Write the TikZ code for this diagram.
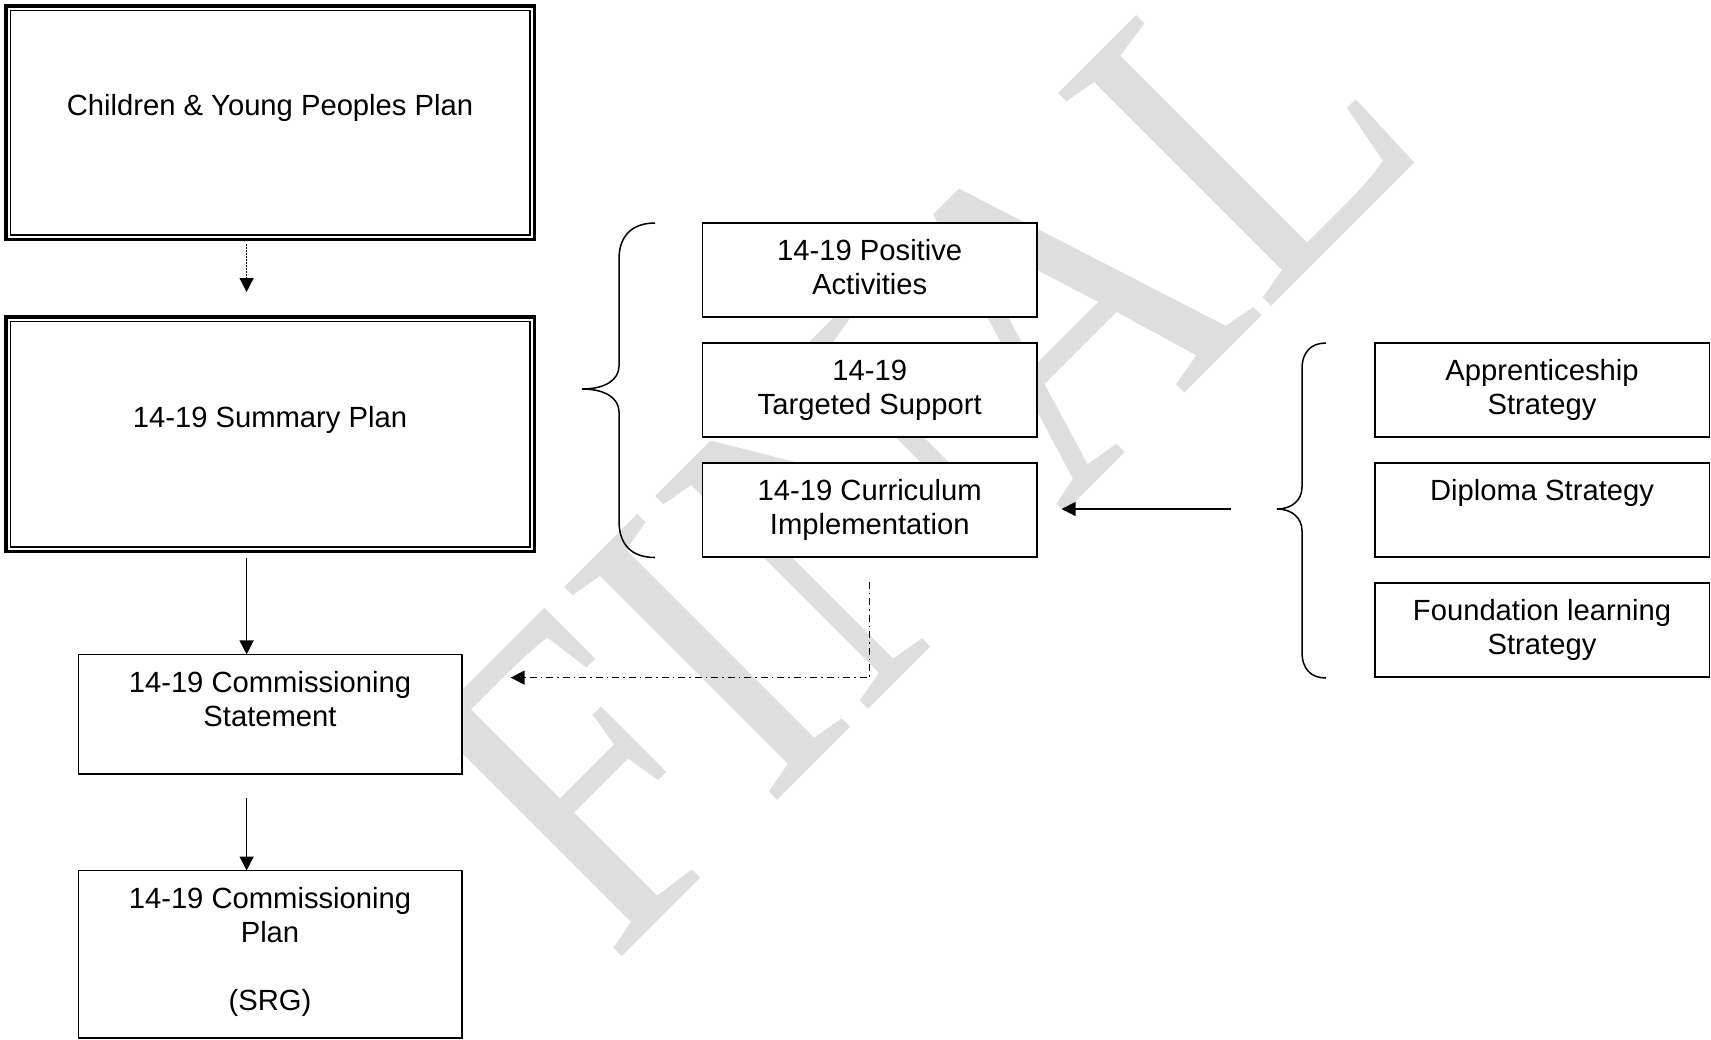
\documentclass[tikz,border=0pt]{standalone}
\usepackage{fontspec}
\setmainfont{Liberation Sans}
\newfontfamily\wmfont{Liberation Serif}
\usetikzlibrary{arrows.meta,calc}
\definecolor{wmgray}{RGB}{222,222,222}
\newcommand{\mlines}[1]{\begin{tabular}[t]{@{}c@{}}#1\end{tabular}}
\begin{document}
\begin{tikzpicture}[x=0.5pt,y=-0.5pt,
  box/.style={draw, line width=0.75pt, fill=white, inner sep=0, outer sep=0, rectangle},
  dbox/.style={draw, line width=1.75pt, fill=white, inner sep=0, outer sep=0, rectangle},
  txt/.style={anchor=base, inner sep=0, outer sep=0, font=\fontsize{14.6pt}{17pt}\selectfont},
  conn/.style={line width=0.75pt, -{Triangle[length=7pt,width=7pt]}},
  dotconn/.style={conn, dash pattern=on 0.75pt off 0.75pt},
  dashdotconn/.style={conn, dash pattern=on 3.5pt off 2pt on 0.75pt off 2pt},
  bracepath/.style={line width=0.75pt},
  wmark/.style={font={\wmfont\fontsize{230pt}{260pt}\selectfont}, text=wmgray, rotate=45, xscale=0.859, anchor=base west, inner sep=0, outer sep=0}
]
\useasboundingbox (0,0) rectangle (1711,1039);
\clip (0,0) rectangle (1711,1039);

% watermark
\node[wmark] (wm) at (612,966) {FINAL};

% left column
\node[dbox, minimum width=264.25pt, minimum height=116.75pt] (cyp) at (270,122.5) {};
\draw[line width=0.75pt] ($(cyp.north west)+(4.5,4.5)$) rectangle ($(cyp.south east)+(-4.5,-4.5)$);
\node[dbox, minimum width=264.25pt, minimum height=117.25pt] (sum) at (270,434) {};
\draw[line width=0.75pt] ($(sum.north west)+(4.5,4.5)$) rectangle ($(sum.south east)+(-4.5,-4.5)$);
\node[box, minimum width=191.85pt, minimum height=59.8pt] (stm) at (270.1,714.2) {};
\node[box, minimum width=191.85pt, minimum height=83.65pt] (cpl) at (270.1,954.15) {};

\node[txt] (tcyp) at (270,115.3) {Children \& Young Peoples Plan};
\node[txt] (tsum) at (270,427.3) {14-19 Summary Plan};
\node[txt] (tstm) at (270,692.5) {\mlines{14-19 Commissioning\\Statement}};
\node[txt] (tcpl) at (270,908.5) {\mlines{14-19 Commissioning\\Plan\\ \\(SRG)}};

% middle column
\node[box, minimum width=167.25pt, minimum height=47pt] (pos) at (869.7,270) {};
\node[box, minimum width=167.25pt, minimum height=47pt] (tar) at (869.7,390) {};
\node[box, minimum width=167.25pt, minimum height=47pt] (cur) at (869.7,510) {};
\node[txt] (tpos) at (869.7,260.5) {\mlines{14-19 Positive\\Activities}};
\node[txt] (ttar) at (869.7,380.5) {\mlines{14-19\\Targeted Support}};
\node[txt] (tcur) at (869.7,500.5) {\mlines{14-19 Curriculum\\Implementation}};

% right column
\node[box, minimum width=167.25pt, minimum height=47pt] (app) at (1542,390) {};
\node[box, minimum width=167.25pt, minimum height=47pt] (dip) at (1542,510) {};
\node[box, minimum width=167.25pt, minimum height=47pt] (fnd) at (1542,630) {};
\node[txt] (tapp) at (1542,380.5) {\mlines{Apprenticeship\\Strategy}};
\node[txt] (tdip) at (1542,500.5) {Diploma Strategy};
\node[txt] (tfnd) at (1542,620.5) {\mlines{Foundation learning\\Strategy}};

% braces
\draw[bracepath] (655,223) .. controls (632,223) and (619,236) .. (619,259) -- (619,366)
  .. controls (619,380) and (605,389) .. (582,389)
  .. controls (605,389) and (619,398) .. (619,412) -- (619,521)
  .. controls (619,545) and (632,557.5) .. (655,557.5);
\draw[bracepath] (1326,343) .. controls (1311,343) and (1302,352) .. (1302,369) -- (1302,487)
  .. controls (1302,500) and (1292,509) .. (1277,509)
  .. controls (1292,509) and (1302,518) .. (1302,531) -- (1302,652)
  .. controls (1302,669) and (1311,678) .. (1326,678);
\coordinate (rb) at (1277,509);

% connectors
\coordinate (ax) at (246.6,0);
\draw[dotconn] ($(cyp.south -| ax)+(0,4.75)$) -- ($(sum.north -| ax)+(0,-24.75)$);
\draw[conn] ($(sum.south -| ax)+(0,6.3)$) -- (stm.north -| ax);
\draw[conn] ($(stm.south -| ax)+(0,23.6)$) -- (cpl.north -| ax);
\draw[conn] ($(rb)+(-46,0)$) -- ($(cur.east)+(24.7,-1)$);
\draw[dashdotconn] ($(cur.south)+(0,24.6)$) |- ($(stm.east)+(48.7,-36.6)$);
\end{tikzpicture}
\end{document}
